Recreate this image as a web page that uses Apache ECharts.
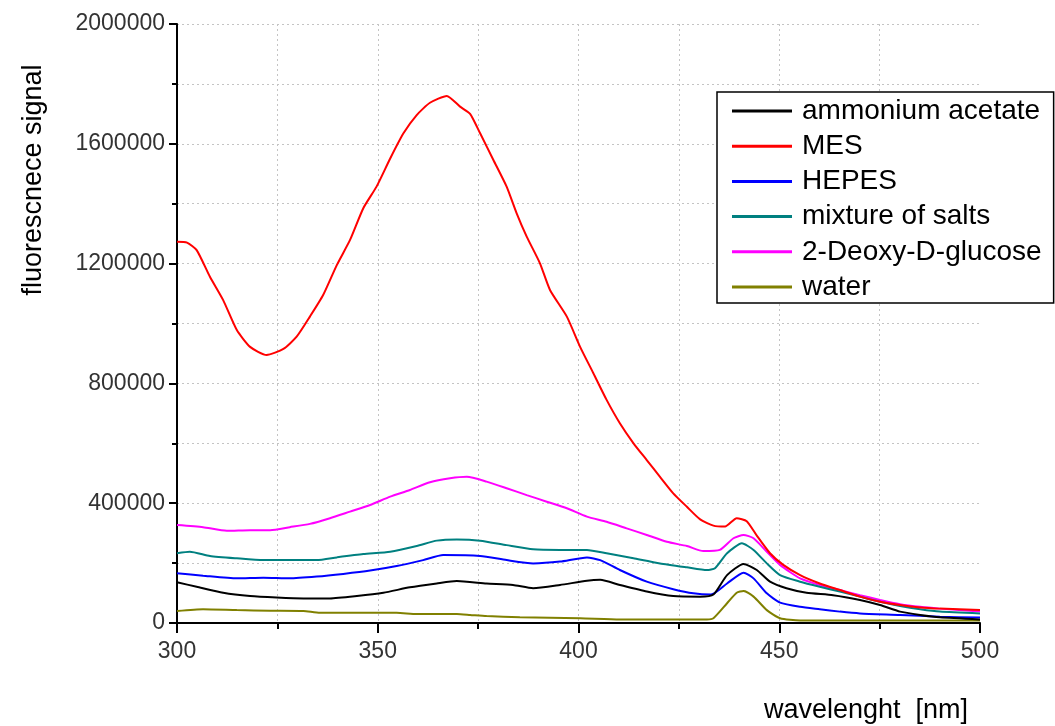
<!DOCTYPE html>
<html>
<head>
<meta charset="utf-8">
<script src="https://cdn.jsdelivr.net/npm/echarts@6/dist/echarts.min.js"></script>
<style>
html,body{margin:0;padding:0;background:#fff;}
#chart{width:1055px;height:726px;}
</style>
</head>
<body>
<div id="chart"></div>
<script>
// ---- data (wavelength in nm, fluorescence signal) ----
const seriesNames = ["ammonium acetate","MES","HEPES","mixture of salts","2-Deoxy-D-glucose","water"];

const wlAmmonium = [300,304.9,311.5,318.2,324.8,331.5,338.1,344.8,351.4,358,364.7,369.7,377.1,383.7,388.7,395.4,402.1,405.4,410.3,417,423.6,430.3,433.6,437,441.1,444.4,447.7,451.8,456.8,463.4,470.1,475.1,480.1,485.1,490,500];
const valAmmonium = [136000,121000,101000,90000,85000,82000,82000,90000,101000,119000,132000,140000,132000,127000,116000,127000,141000,144000,127000,105000,90000,88000,95000,160000,197000,177000,138000,116000,101000,93000,77000,60000,38000,27000,19000,12000];

const wlMES = [300,302.5,304.9,308.2,311.5,314.9,318.2,322.3,326.5,329.8,333.1,336.4,339.8,343.1,346.4,349.7,353.1,356.4,359.7,363,367.2,370.5,373,375.5,378.8,382.1,384.6,387.1,390.4,392.9,397.1,400.4,403.7,407,410.3,413.7,417,420.3,423.6,427,430.3,433.6,436.5,439.4,441.9,444.4,447.7,451,455.2,460.1,465.1,470.1,475.1,480.1,485.1,490,500];
const valMES = [1273000,1270000,1245000,1156000,1078000,978000,922000,895000,915000,956000,1023000,1095000,1195000,1279000,1385000,1457000,1551000,1635000,1696000,1737000,1760000,1724000,1700000,1635000,1546000,1457000,1368000,1290000,1201000,1112000,1023000,922000,834000,745000,667000,600000,544000,488000,433000,388000,346000,325000,322000,350000,340000,292000,233000,194000,160000,132000,110000,88000,71000,60000,52000,48000,43000];

const wlHEPES = [300,306.5,314.9,321.5,328.1,334.8,341.4,348.1,354.7,361.3,366.3,375.5,382.1,388.7,395.4,402.1,405.4,410.3,417,423.6,428.6,433,437,441.1,443.6,446.9,450.2,455.2,460.1,465.1,470.1,480.1,490,500];
const valHEPES = [166000,158000,149000,151000,149000,155000,164000,175000,190000,210000,227000,224000,210000,199000,205000,219000,210000,177000,138000,113000,99000,95000,132000,168000,149000,99000,68000,54000,46000,38000,32000,27000,21000,18000];

const wlSalts = [300,303.2,308.2,314.9,321.5,328.1,334.8,339.8,346.4,353.1,359.7,364.7,369.7,375.5,382.1,388.7,395.4,402.1,407,413.7,420.3,427,432,434,437,440.7,443.6,446.9,450.2,455.2,460.1,465.1,470.1,475.1,480.1,485.1,490,500];
const valSalts = [233000,238000,224000,216000,210000,210000,210000,219000,230000,238000,257000,275000,279000,275000,260000,246000,244000,244000,233000,216000,199000,186000,177000,183000,233000,266000,244000,199000,160000,138000,121000,105000,88000,71000,57000,46000,38000,32000];

const wlDeoxy = [300,306.5,312.4,318.2,323.2,328.1,333.1,338.1,343.1,348.1,353.1,358,363,368,372.2,377.1,382.1,387.1,392.1,397.1,402.1,407,412,417,422,427,431.1,435.2,438.6,441.1,443.6,446.9,450.2,455.2,460.1,465.1,470.1,475.1,480.1,485.1,490,500];
const valDeoxy = [327000,320000,308000,310000,310000,320000,331000,350000,372000,394000,422000,444000,470000,483000,488000,472000,450000,427000,405000,383000,355000,338000,316000,294000,271000,257000,240000,244000,283000,294000,283000,238000,194000,149000,127000,110000,93000,77000,63000,54000,48000,38000];

const wlWater = [300,306.5,314.9,323.2,331.5,335.6,344.8,354.7,359.7,369.7,373,377.1,385.4,400.4,410.3,432,433.6,437,439.4,441.1,443.6,446.9,450.2,455.2,470.1,485.1,500];
const valWater = [40000,46000,43000,41000,40000,34000,34000,34000,30000,30000,27000,23000,19000,16000,12000,12000,16000,66000,101000,107000,88000,43000,16000,8000,8000,8000,8000];

const xTicks = {min:300, max:500, interval:50};
const yTicks = {min:0, max:2000000, interval:400000};

const colors = ["#000000","#ff0000","#0000ff","#008080","#ff00ff","#808000"];
const wls = [wlAmmonium, wlMES, wlHEPES, wlSalts, wlDeoxy, wlWater];
const vals = [valAmmonium, valMES, valHEPES, valSalts, valDeoxy, valWater];

const pair = (xs, ys) => xs.map((x, i) => [x, ys[i]]);

const gridStyle = {show:true, showMaxLine:false, lineStyle:{color:"#c4c4c4", type:[2,3], width:1}};
const gridStyleY = {show:true, lineStyle:{color:"#c4c4c4", type:[2,3], width:1}};

const chart = echarts.init(document.getElementById('chart'), null, {renderer:'canvas'});
chart.setOption({
  animation:false,
  backgroundColor:"#ffffff",
  grid:{left:177, right:75, top:24, bottom:103, containLabel:false},
  xAxis:{
    type:'value', min:xTicks.min, max:xTicks.max, interval:xTicks.interval,
    axisLine:{show:true, lineStyle:{color:'#000', width:2}},
    axisTick:{show:true, inside:false, length:10, lineStyle:{color:'#000', width:2}},
    minorTick:{show:true, splitNumber:2, length:6, lineStyle:{color:'#000', width:2}},
    splitLine:gridStyle,
    minorSplitLine:gridStyle,
    axisLabel:{color:'#333', fontFamily:'Liberation Sans', fontSize:23, margin:17, formatter:(v)=>String(v)}
  },
  yAxis:{
    type:'value', min:yTicks.min, max:yTicks.max, interval:yTicks.interval,
    axisLine:{show:true, lineStyle:{color:'#000', width:2}},
    axisTick:{show:true, inside:false, length:8, lineStyle:{color:'#000', width:2}},
    minorTick:{show:true, splitNumber:2, length:5, lineStyle:{color:'#000', width:2}},
    splitLine:gridStyleY,
    minorSplitLine:gridStyleY,
    axisLabel:{color:'#333', fontFamily:'Liberation Sans', fontSize:23, margin:12, formatter:(v)=>String(v)}
  },
  legend:{
    orient:'vertical', left:717, top:92,
    padding:[5,12,2,15],
    borderColor:'#000', borderWidth:1.5, backgroundColor:'#fff',
    itemWidth:60, itemHeight:3, itemGap:7.2,
    icon:'rect',
    textStyle:{color:'#000', fontFamily:'Liberation Sans', fontSize:28, lineHeight:28, padding:[0,0,0,5]},
    data:seriesNames
  },
  graphic:[
    {type:'text', x:34, y:180, rotation:Math.PI/2,
     style:{text:'fluorescnece signal', fill:'#000', font:'27px "Liberation Sans"', align:'center', verticalAlign:'middle'}},
    {type:'text', x:968, y:711,
     style:{text:'wavelenght  [nm]', fill:'#000', font:'27px "Liberation Sans"', align:'right', verticalAlign:'middle'}}
  ],
  series: seriesNames.map((name, k) => ({
    name:name, type:'line', data:pair(wls[k], vals[k]),
    showSymbol:false, symbol:'none', smooth:0.2,
    color:colors[k],
    lineStyle:{color:colors[k], width:2},
    z: 10 - k
  }))
});
</script>
</body>
</html>
